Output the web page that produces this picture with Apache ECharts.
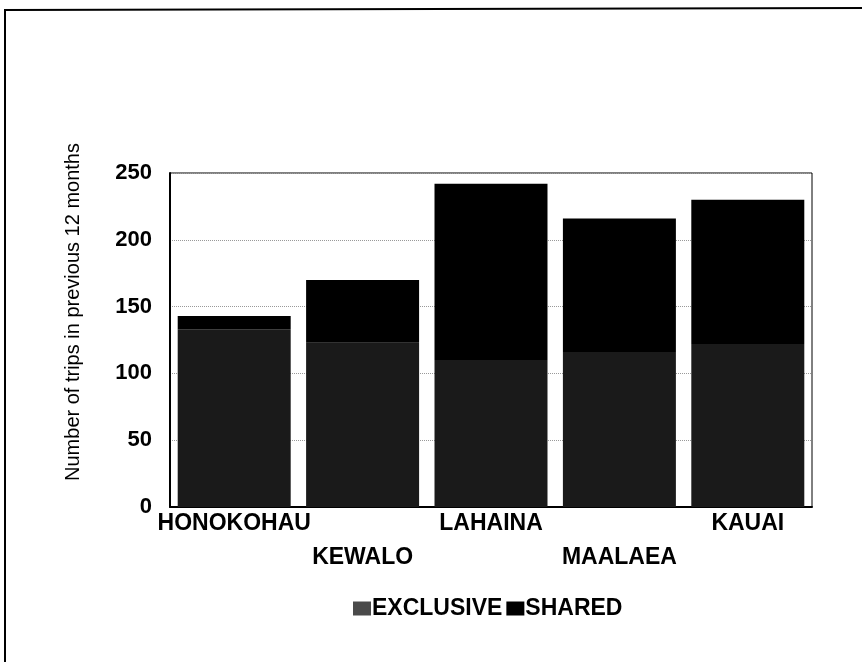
<!DOCTYPE html>
<html lang="en">
<head>
    <meta charset="UTF-8">
    <title>Trips by harbor</title>
    <script src="https://cdn.jsdelivr.net/npm/echarts@6/dist/echarts.min.js"></script>
    <style>
        html, body { margin: 0; padding: 0; background: #fff; }
        #chart { width: 862px; height: 662px; }
    </style>
</head>
<body>
    <div id="chart"></div>
    <script type="text/javascript">
        // data
        var harbors = ['HONOKOHAU', 'KEWALO', 'LAHAINA', 'MAALAEA', 'KAUAI'];
        var exclusive = [133, 123, 110, 116, 122];
        var shared = [10, 47, 132, 100, 108];
        var yTicks = { min: 0, max: 250, step: 50 };

        var font = '"Liberation Sans", Arial, sans-serif';
        var chart = echarts.init(document.getElementById('chart'));

        var option = {
            backgroundColor: '#fff',
            animation: false,
            grid: {
                left: 170, right: 50, top: 173, bottom: 155,
                show: true, borderColor: '#000', borderWidth: 1
            },
            // legend
            legend: {
                bottom: 37,
                left: 348,
                icon: 'rect',
                itemWidth: 18,
                itemHeight: 14,
                itemGap: 4,
                textStyle: { fontFamily: font, fontSize: 23, fontWeight: 'bold', color: '#000', padding: [0, 0, 0, -4] },
                data: [
                    { name: 'EXCLUSIVE', itemStyle: { color: '#4a4a4a' } },
                    { name: 'SHARED', itemStyle: { color: '#000' } }
                ]
            },
            xAxis: {
                type: 'category',
                data: harbors,
                axisLine: { lineStyle: { color: '#000', width: 2 } },
                axisTick: { show: false },
                axisLabel: {
                    interval: 0,
                    margin: 0,
                    fontFamily: font,
                    fontSize: 23,
                    fontWeight: 'bold',
                    color: '#000',
                    lineHeight: 34,
                    formatter: function (v, i) { return i % 2 ? '\n' + v : v; }
                }
            },
            yAxis: {
                type: 'value',
                min: yTicks.min,
                max: yTicks.max,
                interval: yTicks.step,
                axisLine: { show: true, lineStyle: { color: '#000', width: 2 } },
                axisTick: { show: false },
                axisLabel: { margin: 18, fontFamily: font, fontSize: 22, fontWeight: 'bold', color: '#000' },
                splitLine: { lineStyle: { color: '#999', type: 'dotted', width: 1 } }
            },
            series: [
                {
                    name: 'EXCLUSIVE',
                    type: 'bar',
                    stack: 'trips',
                    barCategoryGap: '12%',
                    data: exclusive,
                    itemStyle: { color: '#1a1a1a' }
                },
                {
                    name: 'SHARED',
                    type: 'bar',
                    stack: 'trips',
                    barCategoryGap: '12%',
                    data: shared,
                    itemStyle: { color: '#000' }
                }
            ],
            graphic: [
                // page frame
                { type: 'line', shape: { x1: 5, y1: 10, x2: 862, y2: 8 }, style: { stroke: '#000', lineWidth: 2 } },
                { type: 'line', shape: { x1: 5, y1: 9, x2: 5, y2: 662 }, style: { stroke: '#000', lineWidth: 2 } },
                // axis title
                {
                    type: 'text',
                    x: 73, y: 312,
                    rotation: Math.PI / 2,
                    style: {
                        text: 'Number of trips in previous 12 months',
                        font: '20px ' + font,
                        fill: '#000',
                        align: 'center',
                        verticalAlign: 'middle'
                    }
                }
            ]
        };
        chart.setOption(option);
    </script>
</body>
</html>
